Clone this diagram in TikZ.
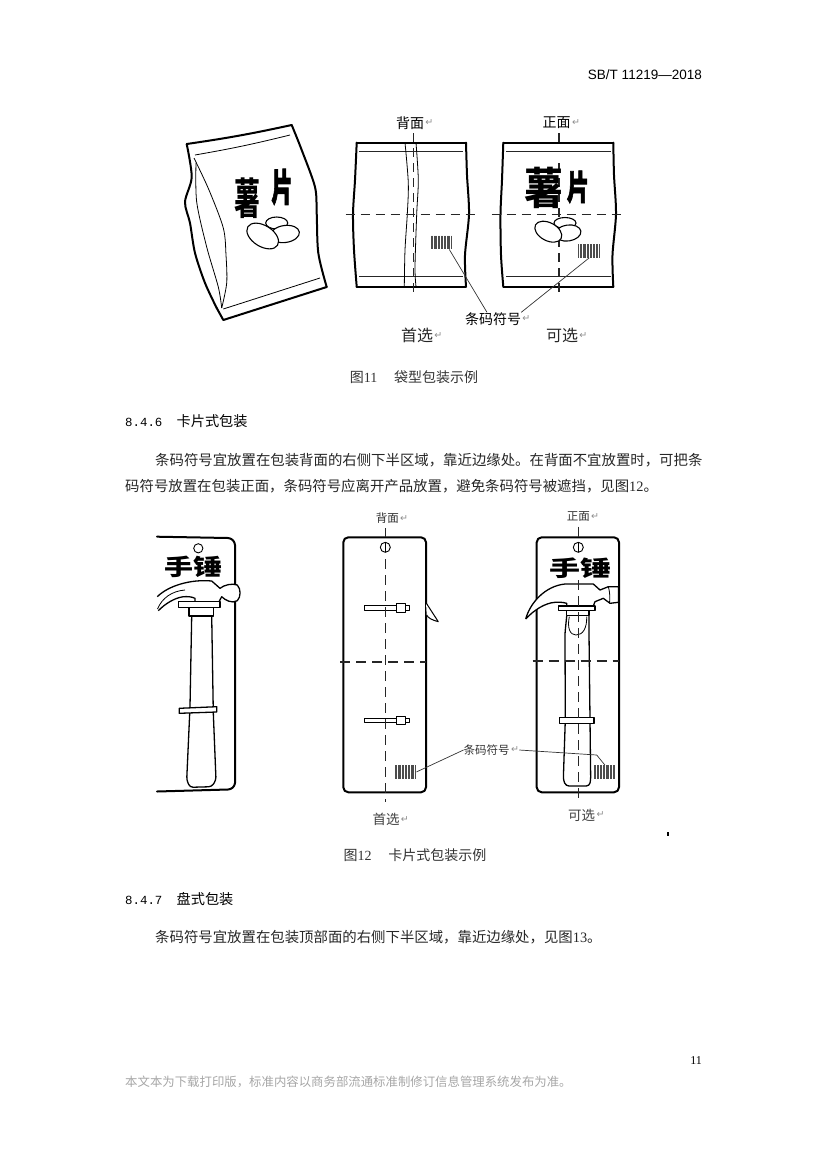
\documentclass[tikz,border=0pt]{standalone}
\usepackage{fontspec}
\setmainfont{Liberation Serif}
\newfontfamily\cjk{Noto Sans CJK SC}
\newfontfamily\cjkheavy[BoldFeatures={FakeBold=2.5}]{Noto Sans CJK SC}
\newfontfamily\monofig{Liberation Mono}
\newfontfamily\sansfig{Liberation Sans}
\newfontfamily\dejavu{DejaVu Sans}
\usetikzlibrary{positioning}

\tikzset{
    pagetext/.style={anchor=west, inner sep=0pt, font=\cjk\fontsize{14.4}{16}\selectfont, text=black!85},
    headtext/.style={anchor=west, inner sep=0pt, font=\cjk\fontsize{14.2}{16}\selectfont},
    captext/.style={inner sep=0pt, font=\cjk\fontsize{14}{16}\selectfont, text=black!80},
    retmark/.style={inner sep=0pt, font=\dejavu\fontsize{9.5}{10}\selectfont, text=black!45},
    lblbig/.style={inner sep=0pt, font=\cjk\fontsize{16}{17}\selectfont, text=black!85},
    lblmid/.style={inner sep=0pt, font=\cjk\fontsize{14}{16}\selectfont},
    lblsmall/.style={inner sep=0pt, font=\cjk\fontsize{11.5}{13}\selectfont, text=black!80},
    lbllow/.style={inner sep=0pt, font=\cjk\fontsize{13.5}{15}\selectfont, text=black!75},
    heavy/.style={inner sep=0pt, font=\cjkheavy\bfseries\fontsize{#1}{#1}\selectfont},
    cardword/.style={inner sep=0pt, font=\cjk\bfseries\fontsize{#1}{#1}\selectfont},
    outline/.style={line width=2pt, line join=round, line cap=round},
    thinline/.style={line width=1pt, black!85},
    hairline/.style={line width=0.8pt},
    axisdash/.style={line width=1.1pt, black!85, dash pattern=on 9pt off 6pt},
    carddash/.style={line width=1.4pt, black!85, dash pattern=on 10pt off 6pt},
    leaderline/.style={line width=0.7pt, black!80},
    barbox/.style={inner sep=0pt, anchor=north west, minimum width=21.3pt, minimum height=13.5pt},
    barline/.style={line width=1pt, black!70},
    spud/.style={draw, fill=white, line width=1.1pt},
    part/.style={draw, fill=white, line width=1.3pt, line join=round},
}

% bars of a symbol: name, left, top
\newcommand{\barsym}[3]{
    \node[barbox] (#1) at (#2,#3) {};
    \begin{scope}[shift={(#2,#3)}]
        \foreach \i in {0,...,14}
            \draw[barline] (\i*1.45+0.4,0)--(\i*1.45+0.4,13.5);
    \end{scope}
}

\begin{document}
\begin{tikzpicture}[x=1pt,y=-1pt]
    \useasboundingbox (0,0) rectangle (827,1170);

    % page text
    \node[anchor=east, inner sep=0pt, font=\sansfig\fontsize{13.5}{15}\selectfont] (pagehead) at (702,75) {SB/T 11219—2018};
    \node[captext] (capA) at (414,377) {图{\rmfamily 11}\hspace{1.2em}袋型包装示例};
    \node[headtext] (secA) at (125,421) {{\monofig\fontsize{12.4}{14}\selectfont 8.4.6}\hspace{1em}卡片式包装};
    \node[pagetext] (paraA) at (155,460) {条码符号宜放置在包装背面的右侧下半区域，靠近边缘处。在背面不宜放置时，可把条};
    \node[pagetext] (paraB) at (125,486) {码符号放置在包装正面，条码符号应离开产品放置，避免条码符号被遮挡，见图{\rmfamily 12}。};
    \node[captext] (capB) at (415,855) {图{\rmfamily 12}\hspace{1.2em}卡片式包装示例};
    \node[headtext] (secB) at (125,899) {{\monofig\fontsize{12.4}{14}\selectfont 8.4.7}\hspace{1em}盘式包装};
    \node[pagetext] (paraC) at (155,937) {条码符号宜放置在包装顶部面的右侧下半区域，靠近边缘处，见图{\rmfamily 13}。};
    \node[anchor=east, inner sep=0pt, font=\rmfamily\fontsize{12}{14}\selectfont] (pagenum) at (702,1061) {11};
    \node[anchor=west, inner sep=0pt, font=\cjk\fontsize{12.4}{14}\selectfont, text=black!35] (pagefoot) at (125,1082) {本文本为下载打印版，标准内容以商务部流通标准制修订信息管理系统发布为准。};
    \fill[black] (667,831.5) rectangle (669,835.5);

    % bag
    \draw[outline] (186.7,144) to[bend right=2] (291.7,125);
    \draw[outline] plot[smooth] coordinates {(291.7,125) (301.7,150) (315,187) (316.7,213) (318.3,253) (326.7,287)};
    \draw[outline] (326.7,287)--(223.3,320)--(216.7,308);
    \draw[outline] plot[smooth] coordinates {(216.7,308) (205,283) (195,253) (190,223) (185,202) (191.7,177) (186.7,144)};
    \draw[hairline] (195,155) to[bend right=2] (290,135);
    \draw[hairline] (223.3,309)--(320,278);
    \draw[hairline] plot[smooth] coordinates {(194,158) (209,190) (223.3,228) (226,255) (226.7,283) (221.7,308)};
    \draw[hairline] plot[smooth] coordinates {(196,163) (196.7,202) (206.7,247) (218.3,287) (221.7,308)};
    \node[cardword=26, yscale=1.65] (bagchuA) at (247,198) {薯};
    \node[heavy=21, yscale=1.8] (bagchuB) at (282,187) {片};
    \draw[spud] (276.7,223) ellipse (11 and 6);
    \draw[spud, rotate around={8:(285,234)}] (285,234) ellipse (14.5 and 8.5);
    \draw[spud, rotate around={-32:(262.7,236)}] (262.7,236) ellipse (17.5 and 10.5);

    % back panel
    \draw[outline] (356.7,142.7)--(466,142.7);
    \draw[outline] (356.7,286.7)--(466,286.7);
    \draw[outline] plot[smooth] coordinates {(356.7,142.7) (355,180) (353,214) (354,250) (356.7,286.7)};
    \draw[outline] plot[smooth] coordinates {(466,142.7) (467,175) (469,214) (465,255) (466,286.7)};
    \draw[thinline] (359,151.7)--(463,151.7);
    \draw[thinline] (359,276.7)--(463,276.7);
    \draw[hairline] plot[smooth] coordinates {(405,142.7) (408.3,183) (407.3,214) (405,250) (404.3,286.7)};
    \draw[hairline] plot[smooth] coordinates {(416,142.7) (418.3,180) (416.7,214) (415,267) (416,286.7)};
    \barsym{barA}{430.7}{235.5}
    \draw[axisdash] (413.3,133)--(413.3,297);
    \draw[axisdash] (345.7,214.3)--(478,214.3);

    % front panel
    \draw[outline] (503.3,142.7)--(613.3,142.7);
    \draw[outline] (503.3,286.7)--(613.3,286.7);
    \draw[outline] plot[smooth] coordinates {(503.3,142.7) (502,180) (500.5,214) (501,255) (503.3,286.7)};
    \draw[outline] plot[smooth] coordinates {(613.3,142.7) (614,175) (616,214) (612.5,255) (613.3,286.7)};
    \draw[thinline] (506,151.7)--(611,151.7);
    \draw[thinline] (506,276.7)--(611,276.7);
    \draw[axisdash] (559,133)--(559,143);
    \draw[axisdash] (559,163)--(559,295);
    \node[cardword=39, yscale=1.12] (frontchuA) at (543.5,188) {薯};
    \node[heavy=22, yscale=1.55] (frontchuB) at (578,187) {片};
    \draw[spud] (565,223) ellipse (11 and 5.5);
    \draw[spud, rotate around={8:(568,233)}] (568,233) ellipse (13 and 8);
    \draw[spud, rotate around={-28:(548.3,231.7)}] (548.3,231.7) ellipse (14.5 and 9);
    \barsym{barB}{578.3}{244}
    \draw[axisdash] (491.7,214.3)--(623.3,214.3);

    % labels of the bags
    \node[lblmid] (backA) at (410,122.7) {背面};
    \node[retmark, right=1pt of backA] (backAret) {↵};
    \node[lblmid] (frontA) at (556.7,122.7) {正面};
    \node[retmark, right=1pt of frontA] (frontAret) {↵};
    \node[lblmid] (codeA) at (493,319) {条码符号};
    \node[retmark, right=1pt of codeA] (codeAret) {↵};
    \node[lblbig] (firstA) at (417,335.5) {首选};
    \node[retmark, right=1pt of firstA] (firstAret) {↵};
    \node[lblbig] (otherA) at (562,335.5) {可选};
    \node[retmark, right=1pt of otherA] (otherAret) {↵};
    \draw[leaderline] (barA.-42)--(codeA.132);
    \draw[leaderline] (barB.south)--(codeA.north east);

    % left card, cut off at its left
    \draw[outline] (157,536.7)--(228,538) to[bend left=40] (235,545)--(235,783) to[bend left=40] (228,789.5)--(157,791.5);
    \draw[line width=0.9pt] (198.3,548.3) circle (4.6);
    \node[cardword=29, yscale=.78] (cardchuA) at (193.3,566.8) {手锤};
    \draw[part, rounded corners=3pt] (191.7,616)--(190,706.7)--(186.7,780)--(190,787.3)--(211.7,786.7)--(216,780)--(213.3,713)--(211.7,616);
    \draw[part] (189,607.3) rectangle (213.3,616);
    \draw[part] (179.3,708.3)--(216.7,706.7)--(216.7,712)--(179.3,713.3)--cycle;
    \draw[part] (157.3,596.7) .. controls (168,586) and (190,579) .. (211.7,581) -- (220,588.3) .. controls (224,585) and (232,583) .. (237.3,585) .. controls (241,589) and (241,597) .. (237.3,600.7) .. controls (232,604) and (225,600) .. (221.7,596.7) -- (219,601.7) -- (195,601.7) -- (195,598.3) .. controls (191,596.5) and (188,596.5) .. (183.3,596.7) .. controls (174,598) and (165,604) .. (158.3,610.7);
    \draw[hairline] (157.5,609) .. controls (162,598) and (172,591) .. (185,590);
    \draw[part] (178.3,601.7) rectangle (220,607.3);

    % back card
    \draw[outline, rounded corners=5pt] (343.3,537.3) rectangle (426,792.3);
    \draw[line width=0.9pt] (385.3,547.3) circle (5);
    \draw[line width=0.9pt] (385.3,542.3)--(385.3,552.3);
    \draw[part, line width=1pt] (426,602.7)--(438.3,621.7) .. controls (432,620) and (428,618) .. (426.7,615);
    \foreach \yy in {607.7,720.3}{
        \draw[part, line width=1pt] (364.3,\yy-2.3) rectangle (396.7,\yy+2.3);
        \draw[part, line width=1pt] (405,\yy-2.3) rectangle (409.3,\yy+2.3);
        \draw[part, line width=1pt] (396.7,\yy-4.3) rectangle (405,\yy+4.3);
    }
    \draw[carddash] (385.3,528.3)--(385.3,537);
    \draw[carddash] (385.3,559)--(385.3,801.7);
    \draw[carddash] (340,662)--(426,662);
    \barsym{barC}{394.7}{765}

    % front card
    \draw[outline, rounded corners=5pt] (536.7,537.3) rectangle (619,792.3);
    \draw[line width=0.9pt] (578.3,547.3) circle (5);
    \draw[line width=0.9pt] (578.3,542.3)--(578.3,552.3);
    \node[cardword=31, yscale=.7] (cardchuB) at (580,568.5) {手锤};
    \draw[part, rounded corners=3pt] (566.7,616)--(565,633)--(565.3,720)--(563.3,780)--(566,786)--(589.3,786)--(590.7,780)--(589,633)--(589,616);
    \draw[hairline] (569.3,616.7) .. controls (567,628) and (570,635) .. (576,635) .. controls (583,635) and (587,628) .. (586.7,616.7);
    \draw[part] (559.3,717.3) rectangle (594,723.3);
    \draw[part] (566.7,610.7) rectangle (589,615.7);
    \draw[part] (525.7,619) .. controls (530,603) and (545,586) .. (565,584) -- (593.3,584) -- (600,590) -- (608.3,586.7) -- (618.5,586.7) -- (618.5,602.3) -- (610,603.3) -- (603.3,598.3) -- (595,601.7) -- (593.3,606) -- (566.7,606) -- (566.7,603.3) .. controls (562,602) and (558,602) .. (555,602.3) .. controls (545,603) and (534,610) .. (525.7,619);
    \draw[hairline] (608.3,586.7) .. controls (610,592) and (610,598) .. (609.5,603.3);
    \draw[part] (558.3,606) rectangle (595,610.7);
    \draw[carddash] (578.3,526.7)--(578.3,537);
    \draw[carddash] (578.3,580)--(578.3,798.3);
    \draw[carddash] (532.7,661)--(619,661);
    \barsym{barD}{594}{765}

    % labels of the cards
    \node[lblsmall] (backB) at (387.3,518.3) {背面};
    \node[retmark, right=1pt of backB] (backBret) {↵};
    \node[lblsmall] (frontB) at (578.3,516.7) {正面};
    \node[retmark, right=1pt of frontB] (frontBret) {↵};
    \node[lblsmall] (codeB) at (486.7,750) {条码符号};
    \node[retmark, right=1pt of codeB] (codeBret) {↵};
    \node[lbllow] (firstB) at (386,819.5) {首选};
    \node[retmark, right=1pt of firstB] (firstBret) {↵};
    \node[lbllow] (otherB) at (581.7,815) {可选};
    \node[retmark, right=1pt of otherB] (otherBret) {↵};
    \coordinate (codeBbend) at (596.7,755);
    \draw[leaderline] (barC.east)--(codeB.west);
    \draw[leaderline] (codeBret.east)--(codeBbend)--(barD.north);
\end{tikzpicture}
\end{document}
